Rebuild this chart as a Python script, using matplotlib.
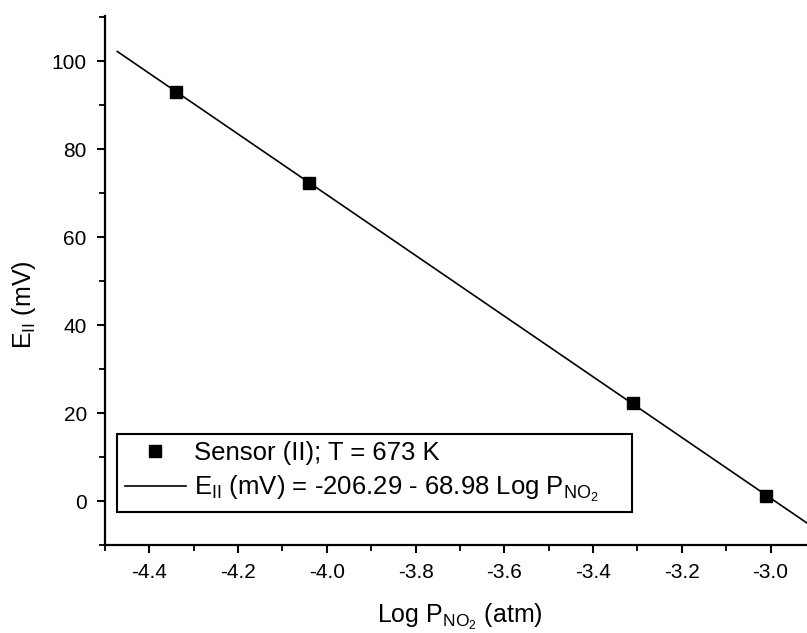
import numpy as np
import matplotlib.pyplot as plt
from matplotlib.ticker import MultipleLocator

# Measured points, sensor (II), T = 673 K
log_p = [-4.34, -4.04, -3.31, -3.01]
e_mv = [93.0, 72.3, 22.3, 1.1]

# Linear fit reported in the legend
intercept = -206.29
slope = -68.98
fit_x = [-4.472, -2.90]

x_ticks = [-4.4, -4.2, -4.0, -3.8, -3.6, -3.4, -3.2, -3.0]
y_ticks = [0, 20, 40, 60, 80, 100]

plt.rcParams['font.family'] = ['Liberation Sans', 'DejaVu Sans']
plt.rcParams['mathtext.fontset'] = 'custom'
plt.rcParams['mathtext.rm'] = 'Liberation Sans'
plt.rcParams['mathtext.it'] = 'Liberation Sans'
plt.rcParams['axes.unicode_minus'] = False

fig = plt.figure(figsize=(8.07, 6.33), dpi=100)
ax = fig.add_axes([0.130, 0.139, 0.870, 0.836])

fx = np.array(fit_x)
ax.plot(log_p, e_mv, 's', color='black', markersize=8,
        label='Sensor (II); T = 673 K')
ax.plot(fx, intercept + slope * fx, '-', color='black', lw=1.2,
        label=r'E$_{\mathrm{II}}$ (mV) = -206.29 - 68.98 Log P$_{\mathrm{NO_2}}$')

ax.set_xlim(-4.50, -2.918)
ax.set_ylim(-10, 110.3)
ax.set_xticks(x_ticks)
ax.set_yticks(y_ticks)
ax.xaxis.set_minor_locator(MultipleLocator(0.1))
ax.yaxis.set_minor_locator(MultipleLocator(10))
ax.set_xticklabels([f'{t:.1f}' for t in x_ticks])

for s in ['top', 'right']:
    ax.spines[s].set_visible(False)
for s in ['left', 'bottom']:
    ax.spines[s].set_linewidth(1.6)

ax.tick_params(which='major', direction='out', length=6, width=1.5,
               labelsize=15, pad=7)
ax.tick_params(which='minor', direction='out', length=4, width=1.3)

ax.set_xlabel(r'Log P$_{\mathrm{NO_2}}$ (atm)', fontsize=18)
ax.set_ylabel(r'E$_{\mathrm{II}}$ (mV)', fontsize=18)
ax.xaxis.set_label_coords(0.505, -0.108)
ax.yaxis.set_label_coords(-0.095, 0.455)

leg = ax.legend(loc='lower left', bbox_to_anchor=(0.017, 0.062, 0.734, 0.155),
                mode='expand', borderaxespad=0, fontsize=18.5, frameon=True,
                fancybox=False, edgecolor='black', framealpha=1,
                handlelength=2.4, handletextpad=0.3, labelspacing=0.35,
                borderpad=0.3)
leg.get_frame().set_linewidth(1.5)

fig.savefig('out.png', dpi=100)
